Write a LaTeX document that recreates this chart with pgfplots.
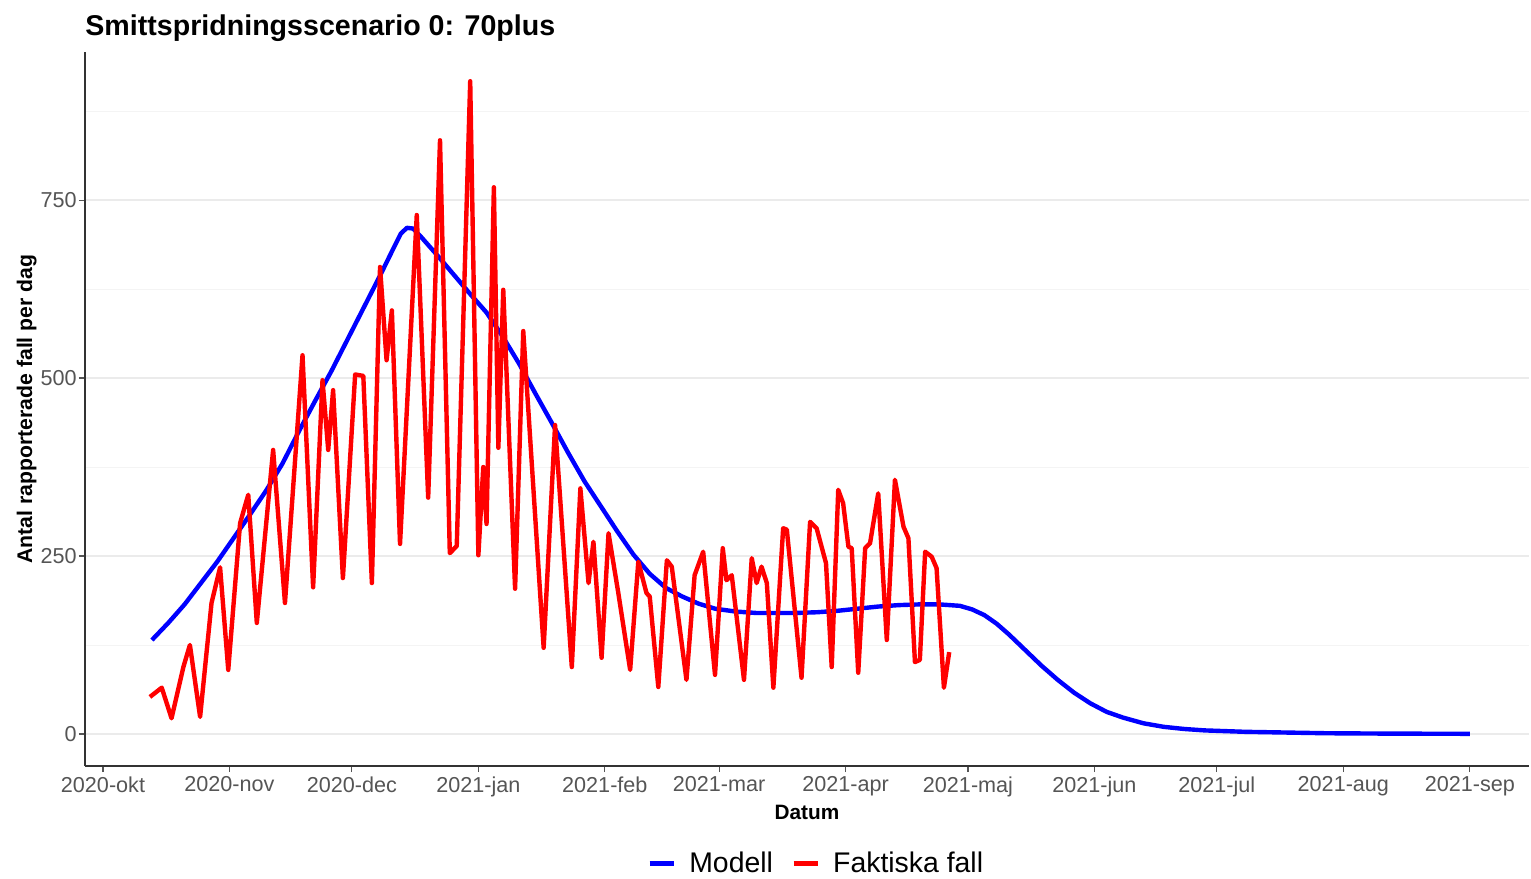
\documentclass[border=0pt]{standalone}
\usepackage{fontspec}
\setmainfont{Liberation Sans}
\usepackage{pgfplots}
\pgfplotsset{compat=1.18}

\definecolor{gridmaj}{HTML}{EBEBEB}
\definecolor{gridmin}{HTML}{F4F4F4}
\definecolor{axisline}{HTML}{333333}
\definecolor{ticktext}{HTML}{555555}
\definecolor{modell}{HTML}{0000FF}
\definecolor{faktiska}{HTML}{FF0000}

% dagar räknade från 2020-10-01
\pgfplotstableread{
dag antal
12 132
16 156
20 182
24 212
28 242
32 275
36 308
40 342
44 380
48 425
52 468
56 510
60 555
64 600
68 645
71 680
73 703
74.5 711
76 710
78 698
82 672
86 645
90 618
94 592
98 558
102 520
106 478
110 437
114 395
118 355
122 320
126 285
130 252
134 225
138 205
142 193
146 183
150 176
155 172
160 170
165 170
170 170
175 171
180 173
185 176
190 179
195 181
200 182
205 182
210 180
213 175
216 167
219 155
222 140
226 118
230 96
234 76
238 58
242 43
246 31
250 23
255 15
260 10
265 7
270 5
280 3
290 2
300 1
315 0.5
335 0.2
}\modell

\pgfplotstableread{
dag antal
11.5 52
14.4 65
16.8 22
19.7 94
21.3 125
23.8 24
26.6 184
28.7 234
30.7 90
33.6 296
35.6 336
37.7 156
41.7 399
44.6 184
48.9 532
51.5 206
53.8 497
55.2 399
56.4 483
58.8 219
61.8 505
63.8 503
65.9 212
67.9 656
69.5 525
70.8 595
72.8 267
76.9 729
79.7 332
82.6 834
85 254
86.7 264
90 917
92 251
93.2 375
94 295
95.8 768
96.9 402
98.1 624
101 204
103 566
108 121
110.8 434
114.9 94
117 345
119 212
120.2 270
122.2 107
123.9 282
126.3 198
129.2 90
131.2 242
133.2 198
134 193
136.1 66
138.2 244
139.4 235
143 76
145 223
147.1 256
150 83
151.9 261
152.8 216
154.1 223
157.1 76
159 247
160.2 212
161.4 235
162.7 212
164.3 65
166.7 289
167.6 287
171.2 79
173.3 298
174.9 289
177.2 240
178.6 94
180.2 343
181.4 324
182.7 263
183.5 261
185.1 86
186.8 261
188 268
190 338
192.1 132
194.1 357
196.2 291
197.4 275
199 101
200.2 104
201.5 256
203.1 249
204.3 233
206.1 65
207.4 115
}\faktiska

\begin{document}
\begin{tikzpicture}
\begin{axis}[
    name=ax,
    scale only axis,
    width=722pt, height=357pt,
    xmin=-4.41, xmax=349.5,
    ymin=-45, ymax=958,
    axis lines=left,
    axis line style={-, draw=axisline, line width=0.7pt},
    xtick={0,31,61,92,123,151,182,212,243,273,304,335},
    xticklabels={2020-okt,2020-nov,2020-dec,2021-jan,2021-feb,2021-mar,2021-apr,2021-maj,2021-jun,2021-jul,2021-aug,2021-sep},
    ytick={0,250,500,750},
    minor ytick={125,375,625,875},
    ymajorgrids, yminorgrids,
    major grid style={draw=gridmaj, line width=0.6pt},
    minor grid style={draw=gridmin, line width=0.35pt},
    tick align=outside,
    major tick length=3pt,
    minor tick length=0pt,
    tick style={draw=ticktext, line width=0.55pt},
    /pgf/number format/assume math mode=true,
    ticklabel style={font=\fontsize{10.8}{12}\selectfont, text=ticktext},
    xticklabel style={inner sep=2pt},
    yticklabel style={inner sep=1pt},
    title={Smittspridningsscenario 0: 70plus},
    title style={at={(axis description cs:0,1)}, anchor=base west, inner sep=0pt,
        yshift=2.5pt, font=\fontsize{14.3}{16}\selectfont\bfseries},
    xlabel={Datum},
    xlabel style={at={(axis description cs:0.5,0)}, anchor=base, inner sep=0pt,
        yshift=-26.5pt, font=\fontsize{10.4}{12}\selectfont\bfseries},
    ylabel={Antal rapporterade fall per dag},
    ylabel style={at={(axis description cs:-0.0367,0.5)}, anchor=base, inner sep=0pt,
        font=\fontsize{10.6}{12}\selectfont\bfseries},
    legend columns=2,
    legend style={at={(axis description cs:0.507,-0.137)}, anchor=center,
        draw=none, fill=none, font=\fontsize{14.2}{16}\selectfont,
        /tikz/every odd column/.append style={column sep=4.5pt},
        /tikz/every even column/.append style={column sep=7pt}},
    legend image code/.code={\draw[#1, line width=2.6pt] (0pt,0pt) -- (12pt,0pt);},
]
\addplot[modell, line width=2.2pt, line join=round] table[x=dag, y=antal] {\modell};
\addlegendentry{Modell}
\addplot[faktiska, line width=2.2pt, line join=round] table[x=dag, y=antal] {\faktiska};
\addlegendentry{Faktiska fall}
\end{axis}
\pgfresetboundingbox
\path[use as bounding box] ([shift={(-42.5pt,-56pt)}]ax.south west) rectangle ([shift={(723pt,383pt)}]ax.south west);
\end{tikzpicture}
\end{document}
